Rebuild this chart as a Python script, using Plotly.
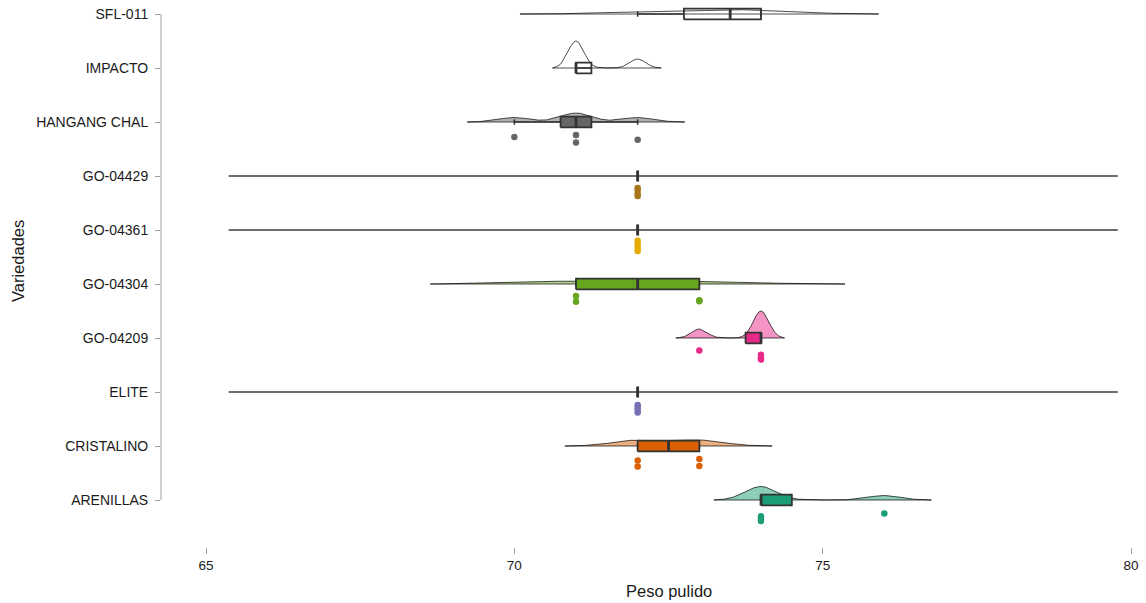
import numpy as np
import plotly.graph_objects as go

# Varieties, bottom to top
categories = ["ARENILLAS", "CRISTALINO", "ELITE", "GO-04209", "GO-04304",
              "GO-04361", "GO-04429", "HANGANG CHAL", "IMPACTO", "SFL-011"]

# Peso pulido per variety
arenillas = [74, 74, 74, 76]
cristalino = [72, 72, 73, 73]
elite = [72, 72, 72, 72]
go_04209 = [73, 74, 74, 74]
go_04304 = [71, 71, 73, 73]
go_04361 = [72, 72, 72, 72]
go_04429 = [72, 72, 72, 72]
hangang_chal = [70, 71, 71, 72]
impacto = [71, 71, 71, 72]
sfl_011 = [72, 73, 74, 74]

values = [arenillas, cristalino, elite, go_04209, go_04304,
          go_04361, go_04429, hangang_chal, impacto, sfl_011]

# Dark2 palette; the last two varieties get no colour (NA)
palette = ["#1B9E77", "#D95F02", "#7570B3", "#E7298A", "#66A61E",
           "#E6AB02", "#A6761D", "#666666", None, None]

# vertical drop of each raw point below its category (jittered rain)
rain_drop = [
    [0.30, 0.35, 0.39, 0.25],
    [0.27, 0.38, 0.24, 0.37],
    [0.24, 0.28, 0.33, 0.38],
    [0.23, 0.31, 0.36, 0.40],
    [0.22, 0.33, 0.30, 0.32],
    [0.20, 0.26, 0.33, 0.39],
    [0.22, 0.26, 0.33, 0.37],
    [0.28, 0.24, 0.38, 0.33],
    None,
    None,
]

X_LIMITS = (65, 80)
X_RANGE = [64.2703, 80.243]
Y_RANGE = [-0.8704, 9.2593]
HALF_HEIGHT = 0.5   # height of the tallest half-violin, in category units
BOX_HALF = 0.1
CAP_HALF = 0.05
EDGE = "#333333"


def hex_rgba(h, a):
    h = h.lstrip("#")
    r, g, b = int(h[0:2], 16), int(h[2:4], 16), int(h[4:6], 16)
    return f"rgba({r},{g},{b},{a})"


def bw_nrd0(x):
    x = np.asarray(x, float)
    hi = np.std(x, ddof=1)
    q75, q25 = np.percentile(x, [75, 25])
    lo = min(hi, (q75 - q25) / 1.34)
    if not lo:
        lo = hi or abs(x[0]) or 1.0
    return 0.9 * lo * len(x) ** -0.2


def kde(x, n=512, cut=3):
    x = np.asarray(x, float)
    bw = bw_nrd0(x)
    grid = np.linspace(x.min() - cut * bw, x.max() + cut * bw, n)
    z = (grid[:, None] - x[None, :]) / bw
    dens = np.exp(-0.5 * z ** 2).sum(axis=1) / (len(x) * bw * np.sqrt(2 * np.pi))
    return grid, dens


densities = [kde(v) for v in values]
dmax = max(d.max() for _, d in densities)

fig = go.Figure()

# half violins (clouds)
for i, (grid, dens) in enumerate(densities):
    keep = (grid >= X_LIMITS[0]) & (grid <= X_LIMITS[1])
    gx = grid[keep]
    gy = i + HALF_HEIGHT * dens[keep] / dmax
    xs = np.concatenate([gx, gx[::-1], gx[:1]])
    ys = np.concatenate([np.full(len(gx), float(i)), gy[::-1], [float(i)]])
    col = palette[i]
    fig.add_trace(go.Scatter(
        x=xs, y=ys, mode="lines", fill="toself",
        fillcolor=hex_rgba(col, 0.5) if col else "rgba(0,0,0,0)",
        line=dict(color="black", width=0.7),
        hoverinfo="skip", showlegend=False))

# raw points (rain)
for i, v in enumerate(values):
    col = palette[i]
    if col is None or rain_drop[i] is None:
        continue
    fig.add_trace(go.Scatter(
        x=v, y=[i - d for d in rain_drop[i]], mode="markers",
        marker=dict(color=col, size=6.5, line=dict(width=0)),
        hoverinfo="skip", showlegend=False))

# boxplots with capped whiskers
for i, v in enumerate(values):
    arr = np.asarray(v, float)
    q1, med, q3 = np.percentile(arr, [25, 50, 75])
    iqr = q3 - q1
    lw = arr[arr >= q1 - 1.5 * iqr].min()
    uw = arr[arr <= q3 + 1.5 * iqr].max()
    col = palette[i]
    # whiskers and caps
    wx, wy = [], []
    for a, b in ((lw, q1), (q3, uw)):
        wx += [a, b, None]
        wy += [i, i, None]
    for c in (lw, uw):
        wx += [c, c, None]
        wy += [i - CAP_HALF, i + CAP_HALF, None]
    fig.add_trace(go.Scatter(
        x=wx, y=wy, mode="lines", line=dict(color=EDGE, width=1.6),
        hoverinfo="skip", showlegend=False))
    # box
    fig.add_trace(go.Scatter(
        x=[q1, q3, q3, q1, q1],
        y=[i - BOX_HALF, i - BOX_HALF, i + BOX_HALF, i + BOX_HALF, i - BOX_HALF],
        mode="lines", fill="toself",
        fillcolor=col if col else "rgba(0,0,0,0)",
        line=dict(color=EDGE, width=1.8),
        hoverinfo="skip", showlegend=False))
    # median
    fig.add_trace(go.Scatter(
        x=[med, med], y=[i - BOX_HALF, i + BOX_HALF], mode="lines",
        line=dict(color=EDGE, width=2.8),
        hoverinfo="skip", showlegend=False))

# capped y axis line spanning first to last category
fig.add_shape(type="line", xref="paper", yref="y", x0=0, x1=0,
              y0=0, y1=len(categories) - 1,
              line=dict(color="#b0b0b0", width=1.2))

FONT = "Liberation Sans, Arial, sans-serif"

fig.update_layout(
    width=1146, height=603,
    margin=dict(l=161, r=0, t=0, b=56),
    plot_bgcolor="white", paper_bgcolor="white",
    font=dict(family=FONT, color="#1a1a1a"),
    xaxis=dict(range=X_RANGE, tickvals=[65, 70, 75, 80],
               ticks="outside", ticklen=6, tickwidth=1, tickcolor="#a0a0a0",
               showline=False, showgrid=False, zeroline=False,
               tickfont=dict(size=13.5, color="#1a1a1a")),
    yaxis=dict(range=Y_RANGE, tickvals=list(range(len(categories))),
               ticktext=categories,
               ticks="outside", ticklen=5, tickwidth=1, tickcolor="#a0a0a0",
               ticklabelstandoff=4,
               showline=False, showgrid=False, zeroline=False,
               tickfont=dict(size=14, color="#1a1a1a")),
    annotations=[
        dict(text="Peso pulido", xref="paper", yref="paper",
             x=(669 - 161) / 985, y=-44 / 547, xanchor="center", yanchor="middle",
             showarrow=False, font=dict(size=16.5, family=FONT, color="#1a1a1a")),
        dict(text="Variedades", xref="paper", yref="paper",
             x=(18 - 161) / 985, y=(547 - 261) / 547, xanchor="center",
             yanchor="middle", textangle=-90,
             showarrow=False, font=dict(size=16.5, family=FONT, color="#1a1a1a")),
    ],
)

fig.write_html("out.html")
